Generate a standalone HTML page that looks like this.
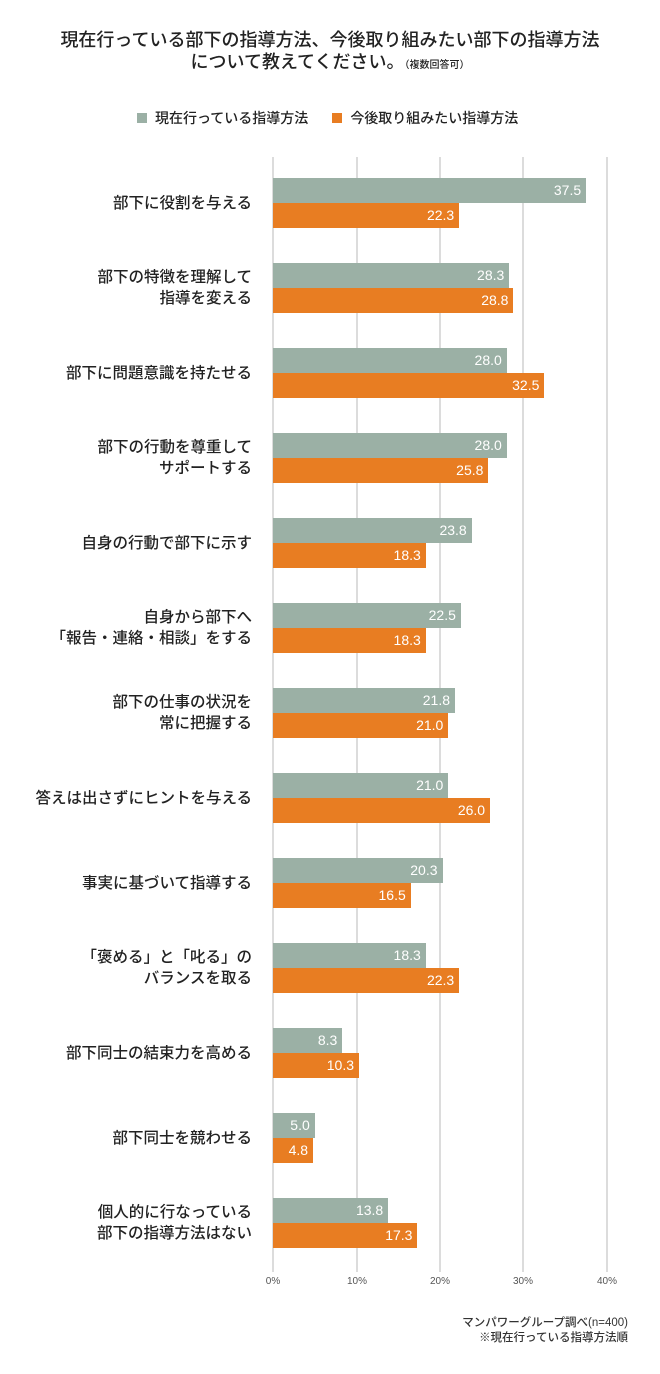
<!DOCTYPE html>
<html><head><meta charset="utf-8"><style>
body{margin:0;width:660px;height:1374px;background:#fff;position:relative;font-family:"Liberation Sans","Noto Sans CJK JP",sans-serif;color:#222;overflow:hidden}
.a{position:absolute}
.t{left:0;width:660px;text-align:center;font-size:18px;font-weight:500;line-height:22px}
.g{top:157px;width:2px;height:1115px;background:#dcdcdc}
.bar{position:absolute;left:273px;height:25px;color:#fff;font-size:14px;text-align:right;box-sizing:border-box;padding-right:5px;line-height:25px}
.gr{background:#9bb0a5}.or{background:#e87d22}
.lb{position:absolute;right:408px;text-align:right;font-size:15.5px;line-height:21px;font-weight:500;color:#222;white-space:nowrap}
.tk{top:1276px;font-size:10px;color:#555;width:40px;text-align:center}
</style></head><body>
<div class="a t" style="top:29px">現在行っている部下の指導方法、今後取り組みたい部下の指導方法</div>
<div class="a t" style="top:51px">について教えてください。<span style="font-size:10px">（複数回答可）</span></div>
<div class="a" style="top:110px;left:137px;font-size:14px;font-weight:500;line-height:16px"><span style="display:inline-block;width:10px;height:10px;background:#9bb0a5;margin-right:8px"></span>現在行っている指導方法<span style="display:inline-block;width:10px;height:10px;background:#e87d22;margin:0 8px 0 24px"></span>今後取り組みたい指導方法</div>
<div class="a g" style="left:272px"></div><div class="a g" style="left:356px"></div><div class="a g" style="left:439px"></div><div class="a g" style="left:522px"></div><div class="a g" style="left:606px"></div>
<div class="a tk" style="left:253px">0%</div><div class="a tk" style="left:337px">10%</div><div class="a tk" style="left:420px">20%</div><div class="a tk" style="left:503px">30%</div><div class="a tk" style="left:587px">40%</div>
<div id="c"></div>
<div class="a" style="top:1316px;right:32px;text-align:right;font-size:11.5px;line-height:15px;font-weight:500;color:#333">マンパワーグループ調べ(n=400)<br>※現在行っている指導方法順</div>
<script>
var d=[["部下に役割を与える",37.5,22.3],["部下の特徴を理解して<br>指導を変える",28.3,28.8],["部下に問題意識を持たせる",28.0,32.5],["部下の行動を尊重して<br>サポートする",28.0,25.8],["自身の行動で部下に示す",23.8,18.3],["自身から部下へ<br>「報告・連絡・相談」をする",22.5,18.3],["部下の仕事の状況を<br>常に把握する",21.8,21.0],["答えは出さずにヒントを与える",21.0,26.0],["事実に基づいて指導する",20.3,16.5],["「褒める」と「叱る」の<br>バランスを取る",18.3,22.3],["部下同士の結束力を高める",8.3,10.3],["部下同士を競わせる",5.0,4.8],["個人的に行なっている<br>部下の指導方法はない",13.8,17.3]];
var h="";d.forEach(function(r,i){var y=178+i*85;var two=r[0].indexOf("<br>")>=0;
h+='<div class="bar gr" style="top:'+y+'px;width:'+(r[1]*8.35)+'px">'+r[1].toFixed(1)+'</div>';
h+='<div class="bar or" style="top:'+(y+25)+'px;width:'+(r[2]*8.35)+'px">'+r[2].toFixed(1)+'</div>';
h+='<div class="lb" style="top:'+(y+25-(two?21:10.5))+'px">'+r[0]+'</div>';});
document.getElementById("c").innerHTML=h;
</script>
</body></html>
